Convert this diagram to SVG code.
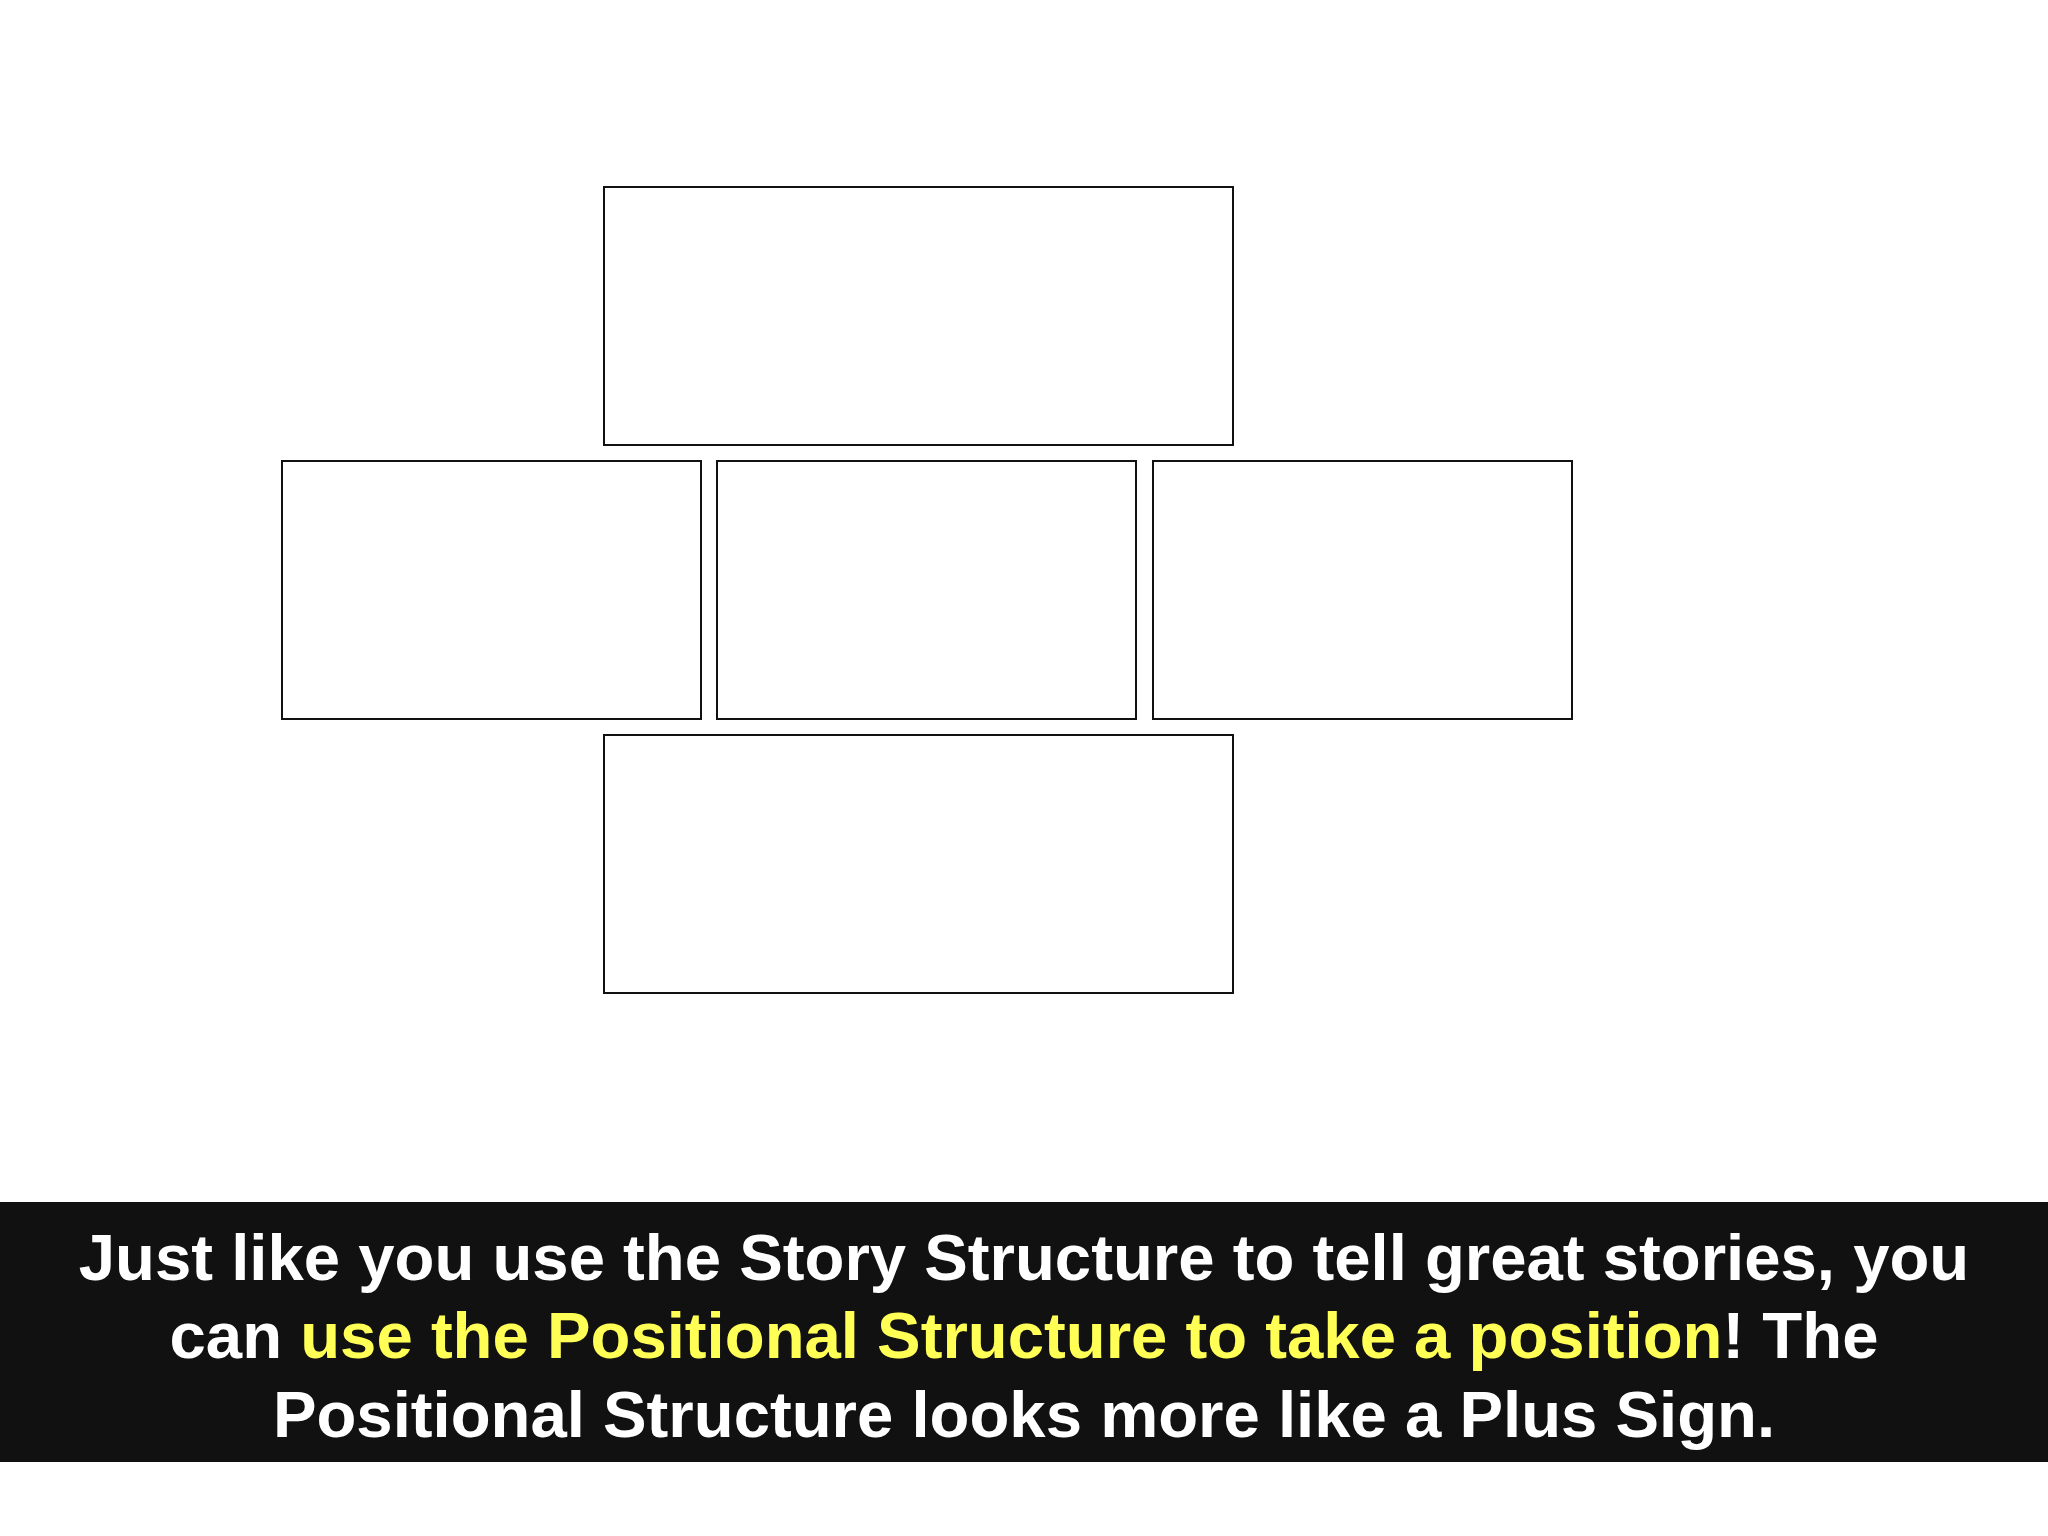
<svg xmlns="http://www.w3.org/2000/svg" width="2048" height="1536" viewBox="0 0 2048 1536">
<style>
.box{fill:#ffffff;stroke:#111111;stroke-width:2}
.cap{font-family:"Liberation Sans",Arial,sans-serif;font-weight:bold;font-size:65.3px;fill:#ffffff}
.hl{fill:#ffff55}
</style>
<rect x="0" y="0" width="2048" height="1536" fill="#ffffff"/>
<g id="node-top"><rect class="box" x="604" y="187" width="629" height="258"/></g>
<g id="node-left"><rect class="box" x="282" y="461" width="419" height="258"/></g>
<g id="node-center"><rect class="box" x="717" y="461" width="419" height="258"/></g>
<g id="node-right"><rect class="box" x="1153" y="461" width="419" height="258"/></g>
<g id="node-bottom"><rect class="box" x="604" y="735" width="629" height="258"/></g>
<g id="connectors"></g>
<g id="caption">
<rect x="0" y="1202" width="2048" height="260" fill="#111111"/>
<text class="cap" x="1024" y="1280" text-anchor="middle">Just like you use the Story Structure to tell great stories, you</text>
<text class="cap" x="1024" y="1358" text-anchor="middle">can <tspan class="hl">use the Positional Structure to take a position</tspan>! The</text>
<text class="cap" x="1024" y="1437" text-anchor="middle">Positional Structure looks more like a Plus Sign.</text>
</g>
</svg>
